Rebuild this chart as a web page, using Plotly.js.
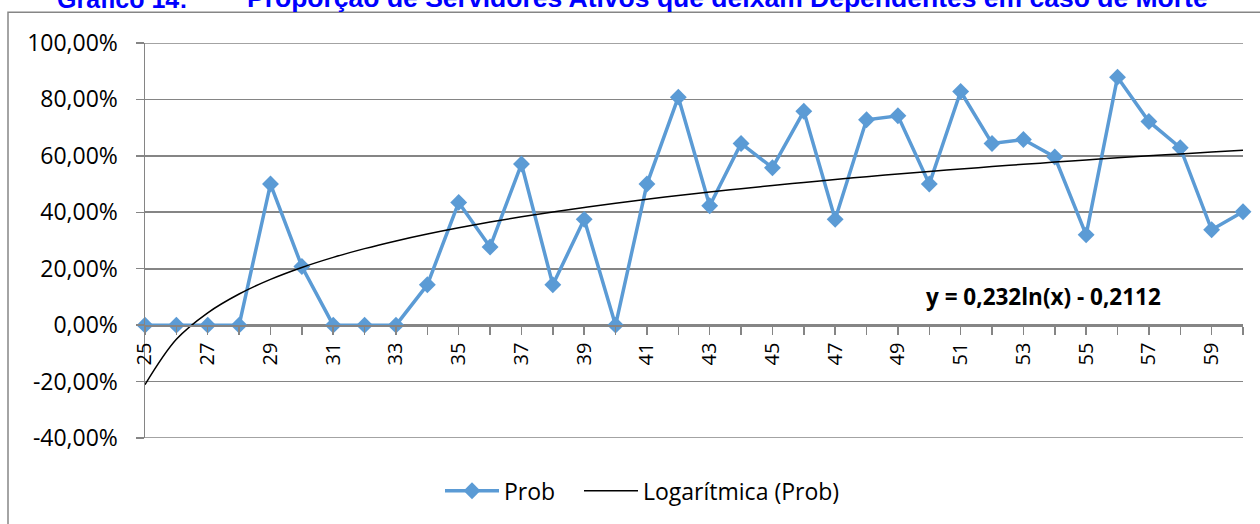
<!DOCTYPE html>
<html>
<head>
<meta charset="utf-8">
<script src="https://cdn.plot.ly/plotly-3.0.1.min.js"></script>
<style>
  html, body { margin: 0; padding: 0; background: #ffffff; }
  #chart { width: 1260px; height: 524px; }
</style>
</head>
<body>
<div id="chart"></div>
<script>
// ---- data ----
var ages = [25,26,27,28,29,30,31,32,33,34,35,36,37,38,39,40,41,42,43,44,45,46,47,48,49,50,51,52,53,54,55,56,57,58,59,60];
var prob = [0,0,0,0,0.50,0.208,0,0,0,0.143,0.435,0.277,0.571,0.143,0.375,0,0.50,0.808,0.423,0.644,0.558,0.758,0.375,0.728,0.742,0.50,0.828,0.644,0.658,0.596,0.32,0.879,0.722,0.629,0.338,0.402];
var trendA = 0.232;
var trendB = -0.2112;
var trendLabel = "y = 0,232ln(x) - 0,2112";
var yTickVals = [-0.4,-0.2,0,0.2,0.4,0.6,0.8,1.0];
var yTickText = ["-40,00%","-20,00%","0,00%","20,00%","40,00%","60,00%","80,00%","100,00%"];
var xLabelAges = [25,27,29,31,33,35,37,39,41,43,45,47,49,51,53,55,57,59];
var titleA = "Gráfico 14:";
var titleB = "Proporção de Servidores Ativos que deixam Dependentes em caso de Morte";
var seriesName = "Prob";
var trendName = "Logarítmica (Prob)";

// trendline from the fitted equation shown on the chart (x = point index 1..n)
var trend = ages.map(function(a, i){ return trendA * Math.log(i + 1) + trendB; });
var xTickText = ages.map(function(a){ return xLabelAges.indexOf(a) >= 0 ? String(a) : ""; });

var FONT = "Open Sans, Lato, sans-serif";
var GRID = "#858585";

// plot area geometry (pixels)
var L = 145, R = 17, T = 43, B = 84, W = 1260, H = 524;
var pw = W - L - R, ph = H - T - B;
function px(xp){ return (xp - L) / pw; }
function py(yp){ return (H - B - yp) / ph; }

var traces = [
  {
    x: ages, y: prob, name: seriesName, type: "scatter", mode: "lines+markers",
    line: { color: "#5B9BD5", width: 3.5 },
    marker: { symbol: "diamond", size: 13, color: "#5B9BD5" },
    cliponaxis: false, legend: "legend"
  },
  {
    x: ages, y: trend, name: trendName, type: "scatter", mode: "lines",
    line: { color: "#000000", width: 1.5, shape: "spline" },
    cliponaxis: false, legend: "legend2"
  }
];

var legendBase = {
  orientation: "h", xanchor: "left", y: py(493), yanchor: "middle",
  font: { family: FONT, size: 23, color: "#000" },
  bgcolor: "rgba(0,0,0,0)", itemwidth: 54
};

// edge gridlines (top/bottom) that Plotly omits at the range ends
var edgeGrid = [yTickVals[0], yTickVals[yTickVals.length - 1]].map(function(v){
  return { type: "line", xref: "paper", yref: "y", x0: 0, x1: 1, y0: v, y1: v,
           line: { color: GRID, width: 1.6 }, layer: "below" };
});

var layout = {
  width: W, height: H,
  margin: { l: L, r: R, t: T, b: B, pad: 0 },
  paper_bgcolor: "#ffffff", plot_bgcolor: "#ffffff",
  showlegend: true,
  font: { family: FONT, color: "#000000" },
  xaxis: {
    type: "linear", range: [25, 60], fixedrange: true,
    anchor: "free", position: 0.4 / 1.4,
    showgrid: false, zeroline: false,
    showline: true, linecolor: GRID, linewidth: 1.5,
    ticks: "outside", ticklen: 8, tickcolor: GRID, tickwidth: 1.5,
    tickmode: "array", tickvals: ages, ticktext: xTickText,
    tickangle: -90, tickfont: { family: FONT, size: 20, color: "#000" },
    automargin: false
  },
  yaxis: {
    range: [-0.4, 1.0], fixedrange: true,
    showgrid: true, gridcolor: GRID, gridwidth: 1.6,
    zeroline: false,
    showline: true, linecolor: GRID, linewidth: 1.5,
    ticks: "outside", ticklen: 8, tickcolor: GRID, tickwidth: 1.5,
    tickmode: "array", tickvals: yTickVals, ticktext: yTickText,
    ticklabelstandoff: 13,
    tickfont: { family: FONT, size: 23, color: "#000" },
    automargin: false
  },
  legend: Object.assign({}, legendBase, { x: px(440) }),
  legend2: Object.assign({}, legendBase, { x: px(579) }),
  shapes: [
    { type: "rect", xref: "paper", yref: "paper",
      x0: px(8), x1: px(1300), y0: py(600), y1: py(12),
      line: { color: "#868686", width: 1.5 }, fillcolor: "rgba(0,0,0,0)", layer: "below" }
  ].concat(edgeGrid),
  annotations: [
    { text: titleA, xref: "paper", yref: "paper", x: px(55), y: py(14.5), xanchor: "left", yanchor: "bottom",
      showarrow: false, font: { family: "Liberation Sans, Arial, sans-serif", size: 25, color: "#0000FF", weight: "bold" } },
    { text: titleB, xref: "paper", yref: "paper", x: px(245), y: py(14.5), xanchor: "left", yanchor: "bottom",
      showarrow: false, font: { family: "Liberation Sans, Arial, sans-serif", size: 26.5, color: "#0000FF", weight: "bold" } },
    { text: "<b>" + trendLabel + "</b>", xref: "paper", yref: "paper", x: px(1043), y: py(298), xanchor: "center", yanchor: "middle",
      showarrow: false, font: { family: FONT, size: 22.5, color: "#000" } }
  ]
};

Plotly.newPlot("chart", traces, layout, { displayModeBar: false, staticPlot: true });
</script>
</body>
</html>
